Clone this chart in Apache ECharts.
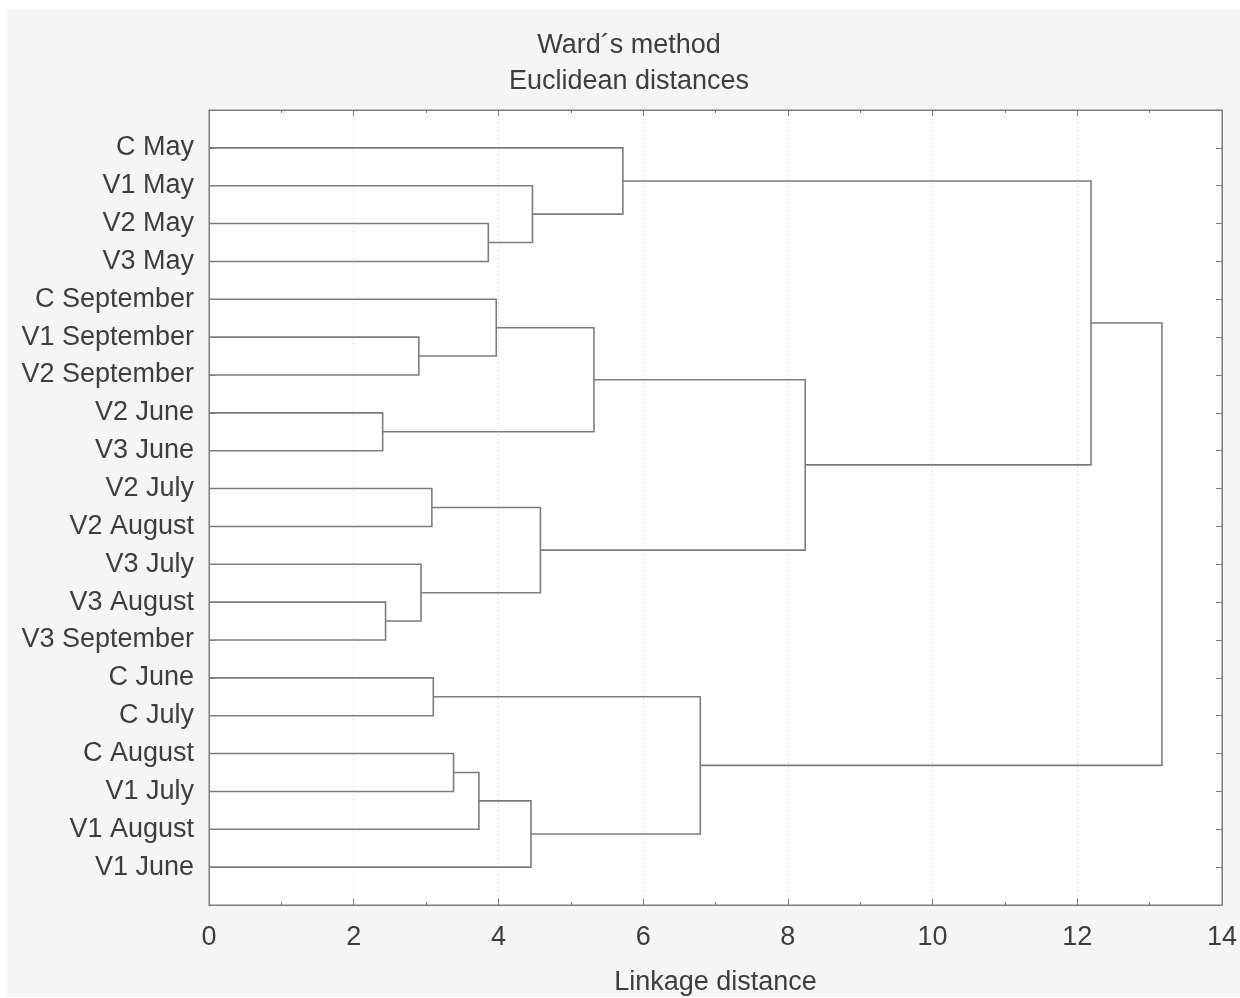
<!DOCTYPE html>
<html>
<head>
<meta charset="utf-8">
<script src="https://cdn.jsdelivr.net/npm/echarts@6/dist/echarts.min.js"></script>
<style>
html,body{margin:0;padding:0;background:#fff;}
#chart{width:1240px;height:998px;}
</style>
</head>
<body>
<div id="chart"></div>
<script>
// Leaves, top to bottom
var leaves = ['C May','V1 May','V2 May','V3 May','C September','V1 September','V2 September',
  'V2 June','V3 June','V2 July','V2 August','V3 July','V3 August','V3 September',
  'C June','C July','C August','V1 July','V1 August','V1 June'];
// Merges: child A, child B (leaf index or 20+merge index)
var mergeA = [2, 1, 0, 5, 4, 7, 24, 9, 12, 11, 27, 26, 22, 14, 16, 34, 35, 33, 32];
var mergeB = [3, 20, 21, 6, 23, 8, 25, 10, 13, 28, 29, 30, 31, 15, 17, 18, 19, 36, 37];
// Linkage distance at each merge
var mergeHeight = [3.86, 4.47, 5.72, 2.90, 3.97, 2.40, 5.32, 3.08, 2.44, 2.93, 4.58, 8.24, 12.19, 3.10, 3.38, 3.73, 4.45, 6.79, 13.17];
var xTicks = [0, 2, 4, 6, 8, 10, 12, 14];

var nLeaf = leaves.length;
var nodeX = [], nodeY = [];
for (var i = 0; i < nLeaf; i++) { nodeX.push(0); nodeY.push(i); }
var segs = [];
for (var m = 0; m < mergeA.length; m++) {
  var a = mergeA[m], b = mergeB[m], h = mergeHeight[m];
  segs.push({coords: [[nodeX[a], nodeY[a]], [h, nodeY[a]], [h, nodeY[b]], [nodeX[b], nodeY[b]]]});
  nodeX.push(h);
  nodeY.push((nodeY[a] + nodeY[b]) / 2);
}

var FONT = 'Liberation Sans, Arial, sans-serif';
var TXT = '#3d3d3d';
var AX = '#7a7a7a';
var FS = 27;

var chart = echarts.init(document.getElementById('chart'), null, {renderer: 'canvas'});
chart.setOption({
  animation: false,
  backgroundColor: '#ffffff',
  graphic: [{
    type: 'rect', z: -10, silent: true,
    shape: {x: 7, y: 10, width: 1233, height: 987},
    style: {fill: '#f5f5f5'}
  }],
  title: {
    text: 'Ward\u00b4s method\nEuclidean distances',
    left: 624, top: 23, textAlign: 'center',
    textStyle: {fontFamily: FONT, fontSize: FS, fontWeight: 'normal', color: TXT, lineHeight: 36}
  },
  grid: {
    left: 209, right: 18, top: 110, bottom: 93, outerBoundsMode: 'none',
    show: true, backgroundColor: '#ffffff', borderColor: AX, borderWidth: 1
  },
  xAxis: [{
    type: 'value', position: 'bottom', min: 0, max: 14, interval: 2,
    name: 'Linkage distance', nameLocation: 'middle', nameGap: 64,
    nameTextStyle: {fontFamily: FONT, fontSize: FS, color: TXT},
    axisLine: {show: true, onZero: false, lineStyle: {color: AX, width: 1}},
    axisTick: {show: true, inside: true, length: 6, lineStyle: {color: AX}},
    minorTick: {show: true, splitNumber: 2, length: 3, lineStyle: {color: AX}},
    axisLabel: {margin: 19, fontFamily: FONT, fontSize: FS, color: TXT,
      formatter: function (v) { return xTicks.indexOf(v) >= 0 ? String(v) : ''; }},
    splitLine: {show: true, lineStyle: {color: '#e6e6e6', type: [2, 2], width: 1}}
  }, {
    type: 'value', position: 'top', min: 0, max: 14, interval: 2,
    axisLine: {show: true, onZero: false, lineStyle: {color: AX, width: 1}},
    axisTick: {show: true, inside: true, length: 6, lineStyle: {color: AX}},
    minorTick: {show: true, splitNumber: 2, length: 3, lineStyle: {color: AX}},
    axisLabel: {show: false},
    splitLine: {show: false}
  }],
  yAxis: [{
    type: 'value', position: 'left', min: -1, max: 20, interval: 1, inverse: true,
    axisLine: {show: true, onZero: false, lineStyle: {color: AX, width: 1}},
    axisTick: {show: true, inside: true, length: 6, lineStyle: {color: AX}},
    axisLabel: {margin: 15, fontFamily: FONT, fontSize: FS, color: TXT,
      formatter: function (v) { return (v >= 0 && v < nLeaf) ? leaves[v] : ''; }},
    splitLine: {show: false}
  }, {
    type: 'value', position: 'right', min: -1, max: 20, interval: 1, inverse: true,
    axisLine: {show: true, onZero: false, lineStyle: {color: AX, width: 1}},
    axisTick: {show: true, inside: true, length: 6, lineStyle: {color: AX}},
    axisLabel: {show: false},
    splitLine: {show: false}
  }],
  series: [{
    type: 'lines', coordinateSystem: 'cartesian2d', polyline: true,
    xAxisIndex: 0, yAxisIndex: 0, silent: true,
    lineStyle: {color: '#7c7c7c', width: 1.6, opacity: 1},
    data: segs
  }]
});
</script>
</body>
</html>
